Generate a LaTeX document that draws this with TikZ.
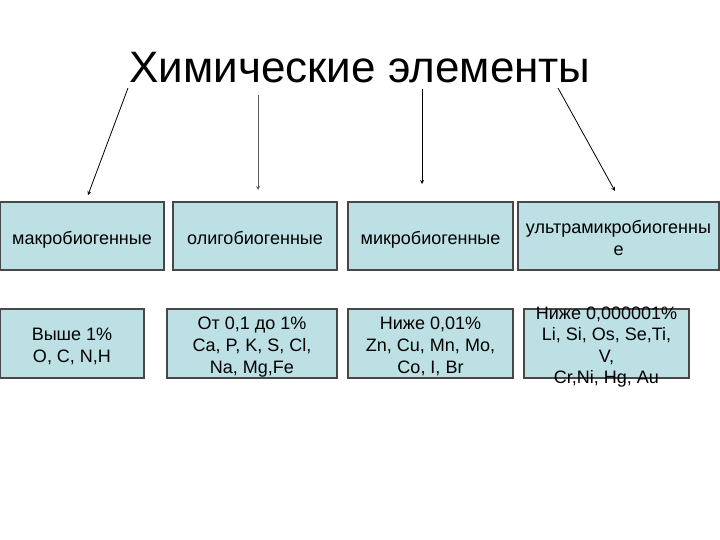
\documentclass[tikz,border=0pt]{standalone}
\usepackage{fontspec}
\setmainfont{Liberation Sans}
\usetikzlibrary{positioning,arrows}
\definecolor{boxfill}{RGB}{188,224,228}
\definecolor{boxline}{RGB}{72,72,72}
\newcommand{\topstrut}{\rule{0pt}{20.5pt}}
\newcommand{\botstrut}{\rule[-4.5pt]{0pt}{4.5pt}}

\begin{document}
\begin{tikzpicture}[x=1pt,y=-1pt,>=stealth,
   group/.style={draw=boxline,line width=1.2pt,fill=boxfill,inner sep=0pt,
      minimum height=68pt,align=center,font=\fontsize{18}{22}\selectfont},
   share/.style={group,minimum height=69pt},
   link/.style={->,line width=0.8pt}]
   \useasboundingbox (0,0) rectangle (720,540);

   \node[anchor=base,font=\fontsize{44}{52}\selectfont] (title) at (360,83) {Химические элементы};

   % groups
   \node[group,minimum width=164pt] (g_1) at (82,236) {\topstrut макробиогенные\botstrut};
   \node[group,minimum width=164pt] (g_2) at (255,236) {\topstrut олигобиогенные\botstrut};
   \node[group,minimum width=165pt] (g_3) at (430.5,236) {\topstrut микробиогенные\botstrut};
   \node[group,minimum width=201pt] (g_4) at (618.5,236) {\topstrut ультрамикробиогенны\\е\botstrut};

   % shares
   \node[share,minimum width=144pt] (s_1) at (72,343.5) {\topstrut Выше 1\%\\O, C, N,H\botstrut};
   \node[share,minimum width=170pt] (s_2) at (252,343.5) {\topstrut От 0,1 до 1\%\\Ca, P, K, S, Cl,\\Na, Mg,Fe\botstrut};
   \node[share,minimum width=165pt] (s_3) at (430.5,343.5) {\topstrut Ниже 0,01\%\\Zn, Cu, Mn, Mo,\\Co, I, Br\botstrut};
   \node[share,minimum width=165pt,
      label={[align=center,font=\fontsize{18}{21.5}\selectfont]center:{\topstrut Ниже 0,000001\%\\Li, Si, Os, Se,Ti,\\V,\\Cr,Ni, Hg, Au\botstrut}}]
      (s_4) at (606.5,343.5) {};

   \coordinate (a_1) at (128,88);  \coordinate (e_1) at (88,195);
   \coordinate (a_2) at (258,95);  \coordinate (e_2) at (258,190);
   \coordinate (a_3) at (422,89);  \coordinate (e_3) at (422,184);
   \coordinate (a_4) at (558,88);  \coordinate (e_4) at (615,191);

   \path[link]
   (a_1) edge (e_1)
   (a_2) edge[draw=black!65] (e_2)
   (a_3) edge (e_3)
   (a_4) edge (e_4);
\end{tikzpicture}
\end{document}
